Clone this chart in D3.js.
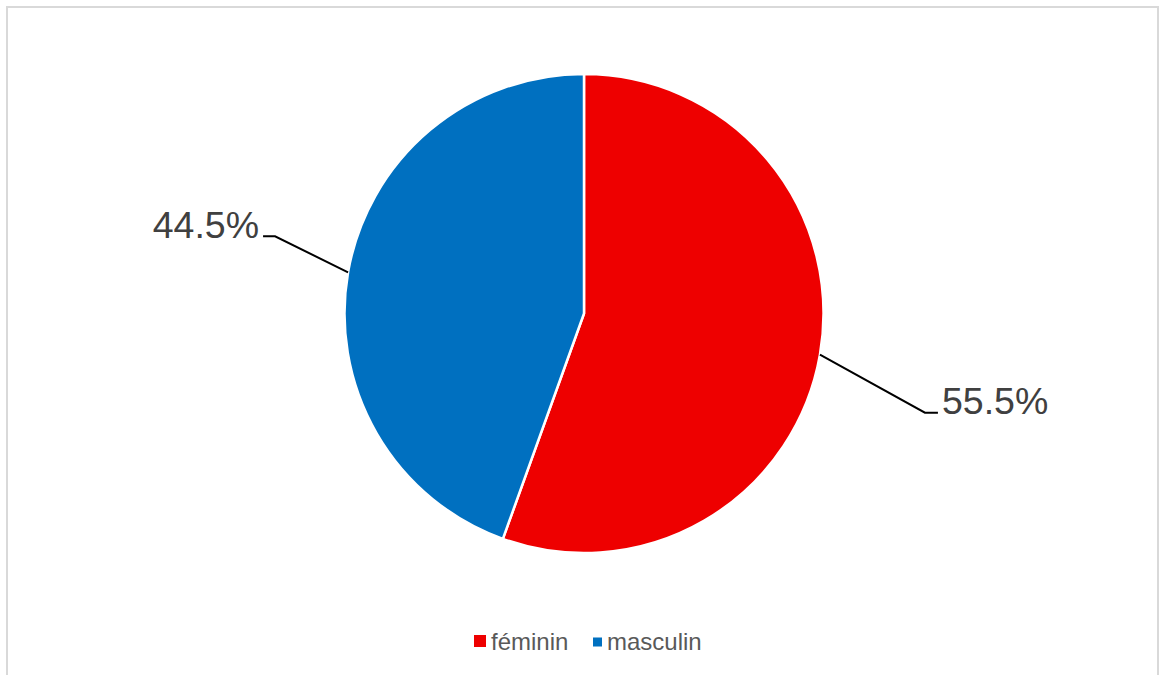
<!DOCTYPE html>
<html>
<head>
<meta charset="utf-8">
<script src="https://cdn.jsdelivr.net/npm/d3@7"></script>
<style>
  html, body { margin: 0; padding: 0; background: #fff; }
  svg { display: block; }
</style>
</head>
<body>
<svg id="chart" width="1159" height="675"></svg>
<script>
const categories = ["féminin", "masculin"];
const values = [55.5, 44.5];
const labels = ["55.5%", "44.5%"];
const colors = ["#EE0000", "#0070C0"];

const W = 1159, H = 675;
const cx = 584, cy = 313.5, R = 239.5;
const svg = d3.select("#chart");
const font = "'Liberation Sans', Arial, sans-serif";

// frame
svg.append("rect")
  .attr("x", 7).attr("y", 7)
  .attr("width", 1151).attr("height", 680)
  .attr("fill", "none").attr("stroke", "#d9d9d9").attr("stroke-width", 2);

const pie = d3.pie().sort(null).value(d => d)(values);
const arc = d3.arc().innerRadius(0).outerRadius(R);

const g = svg.append("g").attr("transform", `translate(${cx},${cy})`);
g.selectAll("path.slice").data(pie).join("path")
  .attr("class", "slice")
  .attr("d", arc)
  .attr("fill", (d, i) => colors[i])
  .attr("stroke", "#fff")
  .attr("stroke-width", 2.5)
  .attr("stroke-linejoin", "round");

// leader line layout: elbow offset from edge point, horizontal segment length
const leaderLayout = [
  { elbow: [105, 58], tail: 13 },   // féminin (right)
  { elbow: [-73, -36], tail: -12 }  // masculin (left)
];

pie.forEach((d, i) => {
  const a = (d.startAngle + d.endAngle) / 2;
  const ex = Math.sin(a) * R, ey = -Math.cos(a) * R;
  const L = leaderLayout[i];
  const bx = ex + L.elbow[0], by = ey + L.elbow[1];
  const tx = bx + L.tail;
  g.append("polyline")
    .attr("points", `${ex},${ey} ${bx},${by} ${tx},${by}`)
    .attr("fill", "none").attr("stroke", "#000").attr("stroke-width", 2);
  const right = L.tail > 0;
  g.append("text")
    .attr("x", tx + (right ? 4 : -4))
    .attr("y", by + 1.5)
    .attr("text-anchor", right ? "start" : "end")
    .attr("font-family", font)
    .attr("font-size", 37.5)
    .attr("fill", "#404040")
    .text(labels[i]);
});

// legend
const legend = svg.append("g");
const legendItems = [
  { x: 474, size: 12, sy: 635, tx: 491 },
  { x: 593, size: 9, sy: 637.5, tx: 607 }
];
categories.forEach((c, i) => {
  const it = legendItems[i];
  legend.append("rect")
    .attr("x", it.x).attr("y", it.sy)
    .attr("width", it.size).attr("height", it.size)
    .attr("fill", colors[i]);
  legend.append("text")
    .attr("x", it.tx)
    .attr("y", 650)
    .attr("font-family", font)
    .attr("font-size", 24)
    .attr("fill", "#595959")
    .text(c);
});
</script>
</body>
</html>
